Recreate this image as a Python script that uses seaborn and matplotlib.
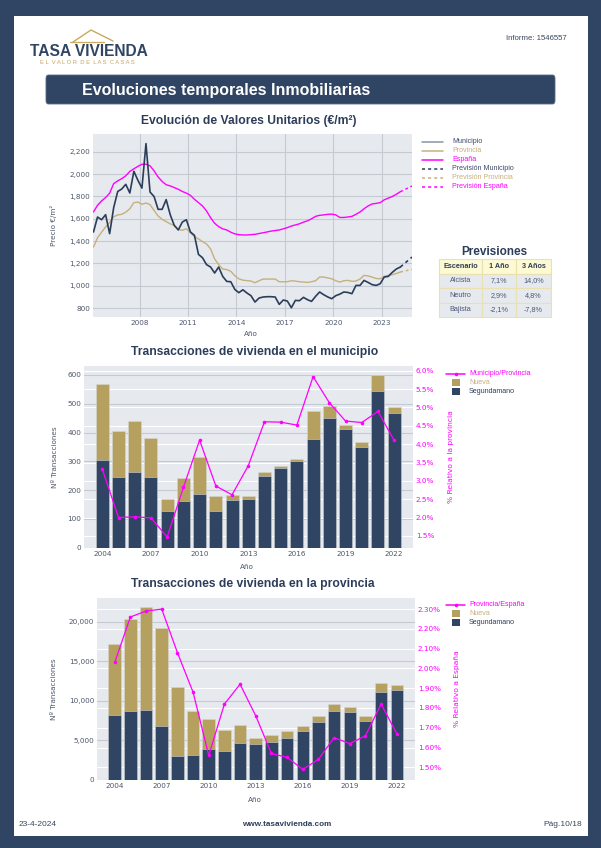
import numpy as np
import pandas as pd
import matplotlib
matplotlib.use('Agg')
import matplotlib.pyplot as plt
import seaborn as sns
from matplotlib.patches import Rectangle, FancyBboxPatch
from matplotlib.lines import Line2D
from matplotlib.ticker import FuncFormatter

# ---- data: unit values (quarterly, EUR/m2) ----
q_start = 2005.15
mun_vals = [1482, 1616, 1592, 1637, 1467, 1700, 1845, 1867, 1909, 1831, 2026, 1945, 1875, 2274,
            1840, 1800, 1685, 1685, 1772, 1637, 1541, 1500, 1571, 1592, 1482, 1452, 1281, 1251,
            1189, 1168, 1114, 1168, 1084, 1039, 1036, 967, 938, 964, 935, 911, 854, 890, 899,
            902, 902, 899, 833, 872, 863, 803, 869, 866, 896, 875, 860, 905, 944, 920, 900, 884,
            911, 925, 944, 940, 929, 1003, 1003, 1048, 1030, 1010, 1003, 1018, 1078, 1084, 1120,
            1150, 1168]
prov_vals = [1347, 1430, 1480, 1527, 1568, 1618, 1635, 1640, 1660, 1690, 1745, 1750, 1730, 1742,
             1727, 1675, 1625, 1595, 1575, 1555, 1540, 1505, 1497, 1511, 1475, 1440, 1420, 1395,
             1375, 1330, 1240, 1190, 1150, 1145, 1130, 1090, 1062, 1050, 1046, 1042, 1027, 1045,
             1060, 1060, 1060, 1060, 1036, 1036, 1036, 1045, 1042, 1036, 1033, 1030, 1036, 1045,
             1078, 1078, 1070, 1063, 1045, 1033, 1045, 1048, 1040, 1042, 1060, 1093, 1088, 1078,
             1065, 1063, 1085, 1093, 1099, 1110, 1123]
esp_vals = [1661, 1721, 1760, 1790, 1830, 1915, 1940, 1960, 1985, 2025, 2048, 2070, 2089, 2089,
            2075, 2030, 1975, 1935, 1905, 1895, 1880, 1865, 1845, 1830, 1810, 1775, 1745, 1715,
            1670, 1610, 1560, 1530, 1510, 1500, 1480, 1465, 1458, 1455, 1455, 1458, 1461, 1468,
            1475, 1482, 1490, 1495, 1500, 1510, 1521, 1535, 1545, 1555, 1570, 1582, 1600, 1622,
            1631, 1635, 1640, 1642, 1635, 1612, 1612, 1616, 1622, 1640, 1661, 1690, 1715, 1733,
            1738, 1745, 1770, 1785, 1800, 1820, 1843]
fc_end_year = 2024.87
fc_mun = 1257
fc_prov = 1147
fc_esp = 1894

# ---- data: transactions ----
years = list(range(2004, 2023))
mun_seg = [305, 244, 262, 247, 129, 163, 185, 127, 167, 170, 249, 277, 301, 378, 449, 412, 351, 545, 468]
mun_new = [262, 162, 178, 134, 41, 80, 129, 52, 15, 8, 13, 7, 7, 97, 43, 15, 17, 55, 21]
mun_pct = [3.32, 2.00, 2.02, 1.99, 1.47, 2.82, 4.11, 2.86, 2.62, 3.41, 4.61, 4.60, 4.52, 5.84,
           5.13, 4.63, 4.59, 4.89, 4.10]
prov_seg = [8210, 8670, 8840, 6860, 3030, 3200, 3910, 3700, 4710, 4500, 4800, 5260, 6150, 7370,
            8760, 8630, 7490, 11150, 11360]
prov_new = [8960, 11660, 13010, 12330, 8670, 5510, 3750, 2610, 2240, 760, 880, 930, 670, 750,
            800, 590, 590, 1050, 590]
prov_pct = [2.03, 2.26, 2.29, 2.30, 2.08, 1.88, 1.56, 1.82, 1.92, 1.76, 1.57, 1.55, 1.49, 1.54,
            1.65, 1.62, 1.66, 1.82, 1.67]

table_cols = ['Escenario', '1 Año', '3 Años']
table_rows = [['Alcista', '7,1%', '14,0%'],
              ['Neutro', '2,9%', '4,8%'],
              ['Bajista', '-2,1%', '-7,8%']]

# ---- style ----
NAVY = '#2f4563'
DARK = '#2c3d5a'
GOLD = '#b5a060'
GOLD_L = '#c6b07c'
MAG = '#ff00ff'
BG = '#e6e9ee'
GRID = '#c4c9d2'
TICK = '#4d566a'
W, H = 601, 848

sns.set_style('white')
plt.rcParams['font.family'] = ['DejaVu Sans']
TF = 'Liberation Sans'


def box(x0, y0, x1, y1):
    return [x0 / W, 1 - y1 / H, (x1 - x0) / W, (y1 - y0) / H]


def fx(x):
    return x / W


def fy(y):
    return 1 - y / H


fig = plt.figure(figsize=(W / 100, H / 100), dpi=100, facecolor=NAVY)
fig.patches.append(Rectangle((fx(14), fy(836)), (588 - 14) / W, (836 - 16) / H,
                             transform=fig.transFigure, facecolor='white', edgecolor='none', zorder=-2))
fig.patches.append(FancyBboxPatch((fx(46), fy(104)), (555 - 46) / W, (104 - 75) / H,
                                  boxstyle='round,pad=0,rounding_size=0.004',
                                  transform=fig.transFigure, facecolor=NAVY, edgecolor='#5a6b85',
                                  linewidth=0.6, zorder=-1))
fig.text(fx(82), fy(90), 'Evoluciones temporales Inmobiliarias', color='white', fontsize=11.5,
         fontweight='bold', family=TF, va='center', ha='left')

# logo
roof = [(73, 42), (91, 30), (113, 41)]
fig.add_artist(Line2D([fx(p[0]) for p in roof], [fy(p[1]) for p in roof], color='#c9a95c', lw=1.0))
fig.add_artist(Line2D([fx(70), fx(104)], [fy(42), fy(42)], color='#c9a95c', lw=0.9))
fig.text(fx(30), fy(51), 'TASA VIVIENDA', color=NAVY, fontsize=11.2, fontweight='bold', family=TF,
         va='center', ha='left')
fig.text(fx(40), fy(62), 'E L  V A L O R  D E  L A S  C A S A S', color='#c2a460', fontsize=4.2,
         family=TF, va='center', ha='left')
fig.text(fx(567), fy(39), 'Informe: 1546557', color='#3a4660', fontsize=5.6, family=TF,
         va='center', ha='right')

# footer
fig.text(fx(19), fy(824), '23-4-2024', color='#3a4660', fontsize=6, family=TF, va='center')
fig.text(fx(287), fy(824), 'www.tasavivienda.com', color='#2c3d5a', fontsize=5.9, family=TF,
         fontweight='bold', va='center', ha='center')
fig.text(fx(582), fy(824), 'Pág.10/18', color='#3a4660', fontsize=6, family=TF, va='center', ha='right')


def style_ax(ax):
    ax.set_facecolor(BG)
    for s in ax.spines.values():
        s.set_visible(False)
    ax.tick_params(length=0, labelsize=5.2, colors=TICK, pad=2)


def legend_item(y, kind, color, label, tcolor, ls='-', marker=False, x0=422, x1=443, tx=452):
    if kind == 'line':
        fig.add_artist(Line2D([fx(x0), fx(x1)], [fy(y), fy(y)], color=color, lw=1.1, ls=ls))
        if marker:
            fig.add_artist(Line2D([fx((x0 + x1) / 2)], [fy(y)], color=color, marker='o',
                                  markersize=2.6, markeredgewidth=0))
    else:
        fig.patches.append(Rectangle((fx(x0 + 6), fy(y + 3.5)), 8 / W, 7 / H, transform=fig.transFigure,
                                     facecolor=color, edgecolor='none'))
    fig.text(fx(tx), fy(y), label, color=tcolor, fontsize=5.1, family=TF, va='center', ha='left')


# ================= chart 1: unit values =================
df_q = pd.DataFrame({'year': q_start + 0.25 * np.arange(len(mun_vals)),
                     'Municipio': mun_vals, 'Provincia': prov_vals, 'España': esp_vals})
ax1 = fig.add_axes(box(93, 134, 412, 317))
style_ax(ax1)
last = df_q['year'].iloc[-1]
for col, c, lw, fc in [('Provincia', GOLD_L, 1.0, fc_prov), ('España', MAG, 1.0, fc_esp),
                       ('Municipio', DARK, 1.2, fc_mun)]:
    sns.lineplot(data=df_q, x='year', y=col, ax=ax1, color=c, lw=lw)
    sns.lineplot(x=[last, fc_end_year], y=[df_q[col].iloc[-1], fc], ax=ax1, color=c, lw=lw, ls=(0, (2, 2)))
ax1.set_xlim(2005.12, 2024.87)
ax1.set_ylim(720, 2360)
ax1.set_xticks(range(2008, 2024, 3))
ax1.set_yticks(range(800, 2201, 200))
ax1.yaxis.set_major_formatter(FuncFormatter(lambda v, p: f'{int(v):,}'))
ax1.grid(True, color=GRID, lw=0.8)
ax1.set_axisbelow(True)
ax1.set_xlabel('Año', fontsize=5.2, color=TICK)
ax1.set_ylabel('Precio €/m²', fontsize=5.2, color=TICK)
ax1.xaxis.set_label_coords(0.495, -0.077)
ax1.yaxis.set_label_coords((57 - 93) / 319, 0.5)
fig.text(fx(249), fy(121), 'Evolución de Valores Unitarios (€/m²)', color=DARK, fontsize=8.7,
         fontweight='bold', family=TF, ha='center', va='center')

legend_item(141.5, 'line', '#8a93a6', 'Municipio', '#3c4b6b')
legend_item(150.5, 'line', GOLD_L, 'Provincia', GOLD_L)
legend_item(159.5, 'line', MAG, 'España', MAG)
legend_item(168.5, 'line', DARK, 'Previsión Municipio', '#3c4b6b', ls=(0, (2, 2)))
legend_item(177.5, 'line', GOLD_L, 'Previsión Provincia', GOLD_L, ls=(0, (2, 2)))
legend_item(186.5, 'line', MAG, 'Previsión España', MAG, ls=(0, (2, 2)))

# forecast table
fig.text(fx(494), fy(252), 'Previsiones', color=DARK, fontsize=8.5, fontweight='bold', family=TF,
         ha='center', va='center')
axt = fig.add_axes(box(439, 259, 551, 317))
axt.axis('off')
tbl = axt.table(cellText=table_rows, colLabels=table_cols, bbox=[0, 0, 1, 1], cellLoc='center',
                colWidths=[43 / 112, 34 / 112, 35 / 112])
tbl.auto_set_font_size(False)
for (r, c), cell in tbl.get_celld().items():
    cell.set_edgecolor('#e8e1b4')
    cell.set_linewidth(0.8)
    cell.set_facecolor('#fdf9d2' if r == 0 else '#e6e9ee')
    cell.get_text().set_fontsize(5.2)
    cell.get_text().set_family(TF)
    cell.get_text().set_color(DARK if r == 0 else '#4a5878')
    if r == 0:
        cell.get_text().set_fontweight('bold')


# ================= chart 2 & 3: transactions =================
def trans_chart(rect, seg, new, pct, ylim, yticks, yfmt, y2lim, y2ticks, y2fmt, title, title_xy,
                r_label, lab_coords, leg_y, leg_label):
    df = pd.DataFrame({'Año': years, 'Segundamano': seg, 'Nueva': new, 'pct': pct})
    df['Total'] = df['Segundamano'] + df['Nueva']
    ax = fig.add_axes(box(*rect))
    style_ax(ax)
    sns.barplot(data=df, x='Año', y='Total', native_scale=True, color=GOLD, saturation=1, width=0.8,
                errorbar=None, edgecolor='#d9d6cc', linewidth=0.4, ax=ax)
    sns.barplot(data=df, x='Año', y='Segundamano', native_scale=True, color=NAVY, saturation=1,
                width=0.8, errorbar=None, edgecolor='#d0d4dc', linewidth=0.4, ax=ax)
    ax.set_xlim(2002.87, 2023.16)
    ax.set_ylim(*ylim)
    ax.set_xticks(range(2004, 2023, 3))
    ax.set_xticklabels([str(y) for y in range(2004, 2023, 3)])
    ax.set_yticks(yticks)
    ax.yaxis.set_major_formatter(FuncFormatter(yfmt))
    ax.grid(True, axis='y', color=GRID, lw=0.8)
    ax.set_axisbelow(True)
    # grid lines of the right axis drawn behind the bars
    for t in y2ticks:
        yl = ylim[0] + (t - y2lim[0]) / (y2lim[1] - y2lim[0]) * (ylim[1] - ylim[0])
        ax.axhline(yl, color='white', lw=0.8, zorder=0.6)
    ax.set_xlabel('Año', fontsize=5.2, color=TICK)
    ax.set_ylabel('Nº Transacciones', fontsize=5.2, color=TICK)
    ax.xaxis.set_label_coords(*lab_coords[0])
    ax.yaxis.set_label_coords(*lab_coords[1])

    ax2 = ax.twinx()
    for s in ax2.spines.values():
        s.set_visible(False)
    sns.lineplot(data=df, x='Año', y='pct', ax=ax2, color=MAG, lw=0.9, marker='o', markersize=2.6,
                 markeredgewidth=0)
    ax2.set_ylim(*y2lim)
    ax2.set_yticks(y2ticks)
    ax2.yaxis.set_major_formatter(FuncFormatter(y2fmt))
    ax2.tick_params(length=0, labelsize=5.2, colors=MAG, pad=2)
    ax2.set_ylabel(r_label, fontsize=5.4, color=MAG)
    ax2.yaxis.set_label_coords(*lab_coords[2])
    fig.text(fx(title_xy[0]), fy(title_xy[1]), title, color=DARK, fontsize=8.7, fontweight='bold',
             family=TF, ha='center', va='center')
    legend_item(leg_y, 'line', MAG, leg_label, MAG, marker=True, x0=446, x1=465, tx=469)
    legend_item(leg_y + 9, 'box', GOLD, 'Nueva', GOLD_L, x0=446, x1=465, tx=469)
    legend_item(leg_y + 18, 'box', NAVY, 'Segundamano', DARK, x0=446, x1=465, tx=469)
    return ax, ax2


trans_chart((84, 366, 413, 548), mun_seg, mun_new, mun_pct, (-1, 631), range(0, 601, 100),
            lambda v, p: f'{int(v)}', (1.17, 6.13), np.arange(1.5, 6.01, 0.5), lambda v, p: f'{v:.1f}%',
            'Transacciones de vivienda en el municipio', (255, 352), '% Relativo a la provincia',
            [(0.495, -0.088), (-0.079, 0.5), (1.106, 0.5)], 373.5, 'Municipio/Provincia')

trans_chart((97, 598, 415, 780), prov_seg, prov_new, prov_pct, (0, 23000), range(0, 20001, 5000),
            lambda v, p: f'{int(v):,}', (1.436, 2.356), np.arange(1.5, 2.31, 0.1),
            lambda v, p: f'{v:.2f}%',
            'Transacciones de vivienda en la provincia', (253, 584), '% Relativo a España',
            [(0.497, -0.093), (-0.126, 0.5), (1.123, 0.5)], 604.5, 'Provincia/España')

fig.savefig('out.png', dpi=100, facecolor=NAVY)
